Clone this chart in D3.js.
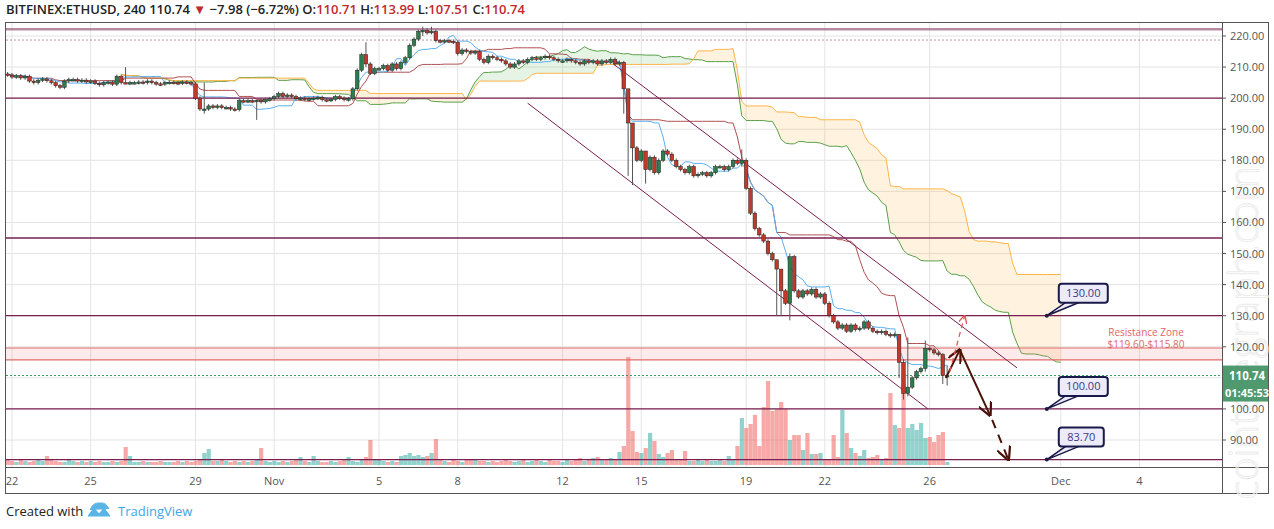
<!DOCTYPE html>
<html><head><meta charset="utf-8">
<script src="https://cdn.jsdelivr.net/npm/d3@7/dist/d3.min.js"></script>
<style>body{margin:0;background:#fff;font-family:"Open Sans","Liberation Sans",sans-serif}</style>
</head><body><svg id="chart" width="1274" height="529"></svg>
<script>
// 4h candles, BITFINEX:ETHUSD, first candle Oct 21 20:00
const closes = [
  207.5,206.8,207.2,206.5,207,205.5,205,205.8,206.2,205.6,205,204,203.5,205.5,206,206,205.5,205.8,205.2,
  205.5,204.8,204.3,205,205.2,204.5,207,205,204.8,205,205,205.2,205,205.5,205,204.6,204.5,205,205.1,205,204.8,205.2,205,204.6,
  200,196.5,196.5,197.5,197,197.5,197,197,196.5,196.3,199.2,199,199.2,199,199.3,198.8,199.5,199.8,
  200.5,201.5,200.5,201,200.5,199.8,200,199.6,199.8,200,200.2,199.5,199.3,199.6,200.5,200,199.5,199.8,203,209,214,211,208,209.5,
  209.5,210.5,209,211,209.5,211.5,213,217,219,221.5,221.8,221,221.5,218.5,218.2,218.5,218.3,218,
  214.3,215.5,215,214.5,215,212.5,211.5,213.5,213,212.5,212,211,210,211,212,211.5,212.5,213,212.5,213,213.5,213,212.5,212,
  212,212.5,212,211.5,211,212,211.5,212,211,212,211.5,212.5,211,211.5,
  203,192,184,180,
  183,177,181,176,180,183,182,180,178,177,176,178,175,175.5,176,175,176,178,178,177,178,180,179,180,
  171,163,158,156,154,150,148,145,138,134,149,138,136,138,137,138.5,136,137,
  134,130,128,126,127,125,127,125.5,126,128,126,125,124.5,125,124,123.5,124,115,105,107,110,112,113,119.5,
  119,118,117.5,110.7,110.74
];
const firstOpen = 207.8;
// notable wicks: index -> [high, low]
const wicks = {
  27:[210,204.5], 45:[205,195], 57:[199.5,193], 82:[218,210], 95:[223,220], 97:[223,220.5],
  141:[212,195], 142:[203,175], 143:[190,172], 146:[183,172.5], 168:[183.5,178],
  176:[148,130], 177:[140,130], 179:[150,128.5], 204:[124,110], 205:[116,103],
  206:[123,104], 210:[122,112], 214:[118,108], 215:[113.99,107.51]
};
const volumes = [
  6,4,3,5,4,3,4,5,4,9,5,4,3,3,5,4,3,4,3,4,3,4,3,3,
  4,3,4,18,9,3,3,4,3,3,3,4,3,3,3,4,3,4,3,4,5,12,16,4,
  4,5,4,3,4,3,4,3,4,5,17,4,3,4,3,4,3,4,5,8,4,3,9,4,
  3,3,4,3,4,5,8,4,3,5,8,25,6,5,4,3,4,3,9,10,12,9,10,8,
  9,12,26,5,4,3,5,4,3,6,5,5,4,4,3,4,3,4,5,4,3,4,5,3,
  4,5,4,3,5,4,4,3,5,4,5,7,4,5,7,8,6,5,7,6,13,19,108,34,
  13,12,17,32,24,11,8,12,15,5,5,14,4,4,5,4,5,4,4,5,4,9,5,19,
  47,37,41,50,19,58,84,54,56,63,56,25,30,30,15,32,11,11,12,6,5,30,8,55,
  32,17,12,9,15,7,8,10,6,7,72,40,37,81,37,41,35,42,27,28,23,30,33
];
const hLines = [200, 155, 130, 100, 83.7];
const priceTicks = [220,210,200,190,180,170,160,150,140,130,120,110,100,90];
const dateTicks = [
  ["2018-10-22","22"],["2018-10-25","25"],["2018-10-29","29"],["2018-11-01","Nov"],
  ["2018-11-05","5"],["2018-11-08","8"],["2018-11-12","12"],["2018-11-15","15"],
  ["2018-11-19","19"],["2018-11-22","22"],["2018-11-26","26"],["2018-12-01","Dec"],["2018-12-04","4"]
];
const resistance = [115.8, 119.6];
const lastPrice = 110.74;
const targets = [[237.8,130,"130.00"],[237.8,100,"100.00"],[237.8,83.7,"83.70"]];
const channelUpper = [[138.6,211],[231,113.2]];
const channelLower = [[119,198.4],[210.6,100]];

const candles = closes.map((c,i)=>{
  const o = i===0 ? firstOpen : closes[i-1];
  const w = wicks[i];
  return {i, o, c, h: w ? w[0] : Math.max(o,c)+0.6, l: w ? w[1] : Math.min(o,c)-0.6, v: volumes[i]||3};
});

const svg = d3.select("#chart");
const plotR = 1222, plotT = 23, plotB = 467;
const x = d3.scaleLinear().domain([0,1]).range([7.6, 7.6+4.37]);
const t0 = new Date(2018,9,21,20).getTime();
const xDate = s => x((new Date(s+"T00:00").getTime()-t0)/(4*3600e3));
const y = d3.scaleLinear().domain([220,90]).range([36,440]);

svg.append("defs").append("clipPath").attr("id","plot")
  .append("rect").attr("x",6).attr("y",plotT).attr("width",plotR-6).attr("height",plotB-plotT);

// grid
const grid = svg.append("g");
priceTicks.forEach(p=>grid.append("line").attr("x1",6).attr("x2",plotR).attr("y1",y(p)).attr("y2",y(p)).attr("stroke","#e4e4e4"));
dateTicks.forEach(d=>grid.append("line").attr("x1",xDate(d[0])).attr("x2",xDate(d[0])).attr("y1",plotT).attr("y2",plotB).attr("stroke","#e4e4e4"));

const g = svg.append("g").attr("clip-path","url(#plot)");

// volume
const vy = d3.scaleLinear().domain([0,108]).range([465,357]);
g.selectAll(".vol").data(candles).enter().append("rect")
  .attr("x",d=>x(d.i)-2).attr("width",4.2).attr("y",d=>vy(d.v)).attr("height",d=>465-vy(d.v))
  .attr("fill",d=>d.c>=d.o?"rgba(38,166,154,0.5)":"rgba(239,83,80,0.5)");

// ichimoku
function mid(i,n){
  const s = candles.slice(Math.max(0,i-n+1), i+1);
  return (d3.max(s,d=>d.h)+d3.min(s,d=>d.l))/2;
}
const tenkan = candles.map(d=>[d.i, mid(d.i,9)]);
const kijun = candles.map(d=>[d.i, mid(d.i,26)]);
const cloud = candles.map(d=>({i:d.i+26, a:(mid(d.i,9)+mid(d.i,26))/2, b:mid(d.i,52)}));
g.append("path").datum(cloud).attr("fill","rgba(76,175,80,0.14)")
  .attr("d",d3.area().x(d=>x(d.i)).y0(d=>y(d.b)).y1(d=>y(Math.max(d.a,d.b))));
g.append("path").datum(cloud).attr("fill","rgba(255,167,38,0.14)")
  .attr("d",d3.area().x(d=>x(d.i)).y0(d=>y(d.a)).y1(d=>y(Math.max(d.a,d.b))));
const ln = d3.line().x(d=>x(d[0])).y(d=>y(d[1]));
g.append("path").datum(cloud.map(d=>[d.i,d.a])).attr("d",ln).attr("fill","none").attr("stroke","#5aa04a").attr("stroke-width",1);
g.append("path").datum(cloud.map(d=>[d.i,d.b])).attr("d",ln).attr("fill","none").attr("stroke","#ffb347").attr("stroke-width",1);
g.append("path").datum(kijun).attr("d",ln).attr("fill","none").attr("stroke","#b05050").attr("stroke-width",1);
g.append("path").datum(tenkan).attr("d",ln).attr("fill","none").attr("stroke","#5ab0f0").attr("stroke-width",1);

// horizontal levels
g.append("rect").attr("x",6).attr("width",plotR-6).attr("y",y(resistance[1])).attr("height",y(resistance[0])-y(resistance[1]))
  .attr("fill","rgba(240,120,120,0.15)");
resistance.forEach(p=>g.append("line").attr("x1",6).attr("x2",plotR).attr("y1",y(p)).attr("y2",y(p)).attr("stroke","#e06a6a").attr("stroke-width",1.2));
g.append("line").attr("x1",6).attr("x2",plotR).attr("y1",y(222.2)).attr("y2",y(222.2)).attr("stroke","#9a5a7a").attr("stroke-width",2.5).attr("opacity",0.7);
g.append("line").attr("x1",6).attr("x2",plotR).attr("y1",y(218.7)).attr("y2",y(218.7)).attr("stroke","#c090a0").attr("stroke-dasharray","2,2");
hLines.forEach(p=>g.append("line").attr("x1",6).attr("x2",plotR).attr("y1",y(p)).attr("y2",y(p)).attr("stroke","#7a1f4f").attr("stroke-width",1.3));
g.append("line").attr("x1",6).attr("x2",plotR).attr("y1",y(lastPrice)).attr("y2",y(lastPrice)).attr("stroke","#2f9a5f").attr("stroke-dasharray","2,2");

// channel
[channelUpper, channelLower].forEach(c=>g.append("path").datum(c).attr("d",ln).attr("stroke","#7a1f4f").attr("fill","none"));

// candles
const cg = g.selectAll(".c").data(candles).enter().append("g");
cg.append("line").attr("x1",d=>x(d.i)).attr("x2",d=>x(d.i)).attr("y1",d=>y(d.h)).attr("y2",d=>y(d.l)).attr("stroke","#555");
cg.append("rect").attr("x",d=>x(d.i)-1.8).attr("width",3.6)
  .attr("y",d=>y(Math.max(d.o,d.c))).attr("height",d=>Math.max(1.5,Math.abs(y(d.o)-y(d.c))))
  .attr("fill",d=>d.c>=d.o?"#2e7d4f":"#c0392b").attr("stroke","#222").attr("stroke-width",0.5);

// arrows
const defs = svg.select("defs");
function head(id,color){
  defs.append("marker").attr("id",id).attr("viewBox","0 0 10 10").attr("refX",9).attr("refY",5)
    .attr("markerWidth",7).attr("markerHeight",7).attr("orient","auto-start-reverse")
    .append("path").attr("d","M0,0 L10,5 L0,10").attr("fill","none").attr("stroke",color).attr("stroke-width",1.6);
}
head("hb","#4a1208"); head("hr","#e05050");
const arrowsSolid = [[[214.7,110],[217.9,119]],[[217.9,119],[224.8,98]]];
arrowsSolid.forEach(a=>g.append("path").datum(a).attr("d",ln).attr("stroke","#4a1208").attr("stroke-width",2).attr("fill","none").attr("marker-end","url(#hb)"));
g.append("path").datum([[225.3,96.5],[229,83.7]]).attr("d",ln).attr("stroke","#4a1208").attr("stroke-width",2)
  .attr("stroke-dasharray","9,7").attr("fill","none").attr("marker-end","url(#hb)");
g.append("path").datum([[215.6,112],[219,130]]).attr("d",ln).attr("stroke","#e05050").attr("stroke-width",1.2)
  .attr("stroke-dasharray","5,4").attr("fill","none").attr("marker-end","url(#hr)");

// callouts
targets.forEach(t=>{
  const px = x(t[0]), py = y(t[1]);
  const bx = px+12, by = py-32, bw = t[2].length>5?49:45;
  g.append("path").attr("d",`M${px},${py} L${bx+8},${by+18} L${bx+22},${by+18} Z`).attr("fill","#ecebf7").attr("stroke","#1a1a4a").attr("stroke-width",1.5);
  g.append("rect").attr("x",bx).attr("y",by).attr("width",bw).attr("height",19).attr("rx",3)
    .attr("fill","#ecebf7").attr("stroke","#1a1a4a").attr("stroke-width",2);
  g.append("circle").attr("cx",px).attr("cy",py).attr("r",2).attr("fill","#1a1a4a");
  g.append("text").attr("x",bx+bw/2).attr("y",by+13.5).attr("text-anchor","middle").attr("font-size",11).attr("fill","#3a3a8a").text(t[2]);
});
g.append("text").attr("x",1146).attr("y",336).attr("text-anchor","middle").attr("font-size",10).attr("fill","#e06666").text("Resistance Zone");
g.append("text").attr("x",1146).attr("y",347.5).attr("text-anchor","middle").attr("font-size",10).attr("fill","#e06666").text("$119.60-$115.80");

// frame + axes
svg.append("line").attr("x1",plotR+0.5).attr("x2",plotR+0.5).attr("y1",plotT).attr("y2",494).attr("stroke","#555");
svg.append("line").attr("x1",6).attr("x2",1268).attr("y1",plotB+0.5).attr("y2",plotB+0.5).attr("stroke","#555");
svg.append("rect").attr("x",5.5).attr("y",22.5).attr("width",1263).attr("height",471).attr("fill","none").attr("stroke","#555");

// watermark
svg.append("text").attr("transform","translate(1258,500) rotate(-90)").attr("font-size",40).attr("font-weight",300)
  .attr("fill","none").attr("stroke","#ececec").attr("stroke-width",1).text("cointelegraph.com");

const ya = svg.append("g").attr("font-size",11).attr("fill","#555");
priceTicks.forEach(p=>{
  ya.append("line").attr("x1",plotR).attr("x2",plotR+4).attr("y1",y(p)).attr("y2",y(p)).attr("stroke","#555");
  ya.append("text").attr("x",1230).attr("y",y(p)+4).text(p.toFixed(2));
});
svg.append("rect").attr("x",1223).attr("y",y(lastPrice)-10).attr("width",45).attr("height",36).attr("fill","#4e9a6e");
svg.append("text").attr("x",1229).attr("y",y(lastPrice)+4.5).attr("font-size",11.5).attr("font-weight",700).attr("fill","#fff").text(lastPrice.toFixed(2));
svg.append("text").attr("x",1225).attr("y",y(lastPrice)+21).attr("font-size",11).attr("font-weight",700).attr("fill","#fff").text("01:45:53");

const xa = svg.append("g").attr("font-size",11).attr("fill","#555").attr("text-anchor","middle");
dateTicks.forEach(d=>xa.append("text").attr("x",xDate(d[0])).attr("y",485).text(d[1]));

// header
const hdr = svg.append("text").attr("x",6).attr("y",14).attr("font-size",13).attr("font-weight",600).attr("fill","#222");
hdr.append("tspan").text("BITFINEX:ETHUSD, 240  110.74 ");
hdr.append("tspan").attr("fill","#c0292b").text("▼");
hdr.append("tspan").text(" −7.98 (−6.72%)  O:");
hdr.append("tspan").attr("fill","#c0292b").text("110.71");
hdr.append("tspan").text("  H:");
hdr.append("tspan").attr("fill","#c0292b").text("113.99");
hdr.append("tspan").text("  L:");
hdr.append("tspan").attr("fill","#c0292b").text("107.51");
hdr.append("tspan").text("  C:");
hdr.append("tspan").attr("fill","#c0292b").text("110.74");

// footer
svg.append("text").attr("x",6).attr("y",516).attr("font-size",13).attr("fill","#222").text("Created with");
svg.append("path").attr("d","M88,516 l6,-8 l5,6 l5,-6 l6,8 Z M90,510 q3,-8 10,-7 q6,-1 9,6").attr("fill","#5ab4e6").attr("stroke","#5ab4e6");
svg.append("text").attr("x",118).attr("y",516).attr("font-size",13).attr("fill","#3ea6e6").text("TradingView");
</script></body></html>
